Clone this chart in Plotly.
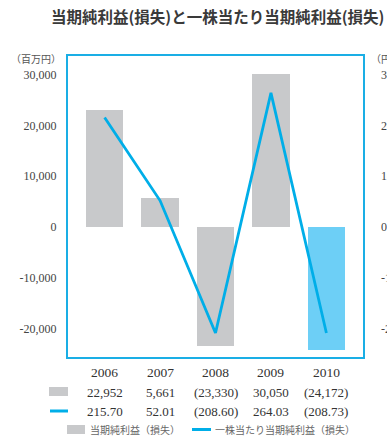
import plotly.graph_objects as go

years = ["2006", "2007", "2008", "2009", "2010"]
net_income = [22952, 5661, -23330, 30050, -24172]          # 百万円
eps = [215.70, 52.01, -208.60, 264.03, -208.73]             # 円
left_ticks = [30000, 20000, 10000, 0, -10000, -20000]
right_ticks = [300, 200, 100, 0, -100, -200]

title = "当期純利益(損失)と一株当たり当期純利益(損失)"
legend_bar = "当期純利益（損失）"
legend_line = "一株当たり当期純利益（損失）"

W, H = 387, 436
L, R, T, B = 68, 363, 56, 357
pw, ph = R - L, B - T
FRAME = "#1aaee5"
LINE = "#00aee8"
GRAY = "#c8c9cb"
LBLUE = "#6dcff6"
SERIF = "Liberation Serif, Times New Roman, serif"
CJK = "Noto Sans CJK JP, Noto Sans, sans-serif"

def px_x(p):
    return (p - L) / pw

def px_y(p):
    return (B - p) / ph

def fmt_int(v):
    s = f"{abs(v):,}"
    return f"({s})" if v < 0 else s

def fmt_dec(v):
    s = f"{abs(v):,.2f}"
    return f"({s})" if v < 0 else s

xs = list(range(len(years)))
bar_colors = [GRAY] * (len(years) - 1) + [LBLUE]

fig = go.Figure()
fig.add_trace(go.Bar(x=xs, y=net_income, width=0.67, marker=dict(color=bar_colors, line=dict(width=0)),
                     showlegend=False, yaxis="y"))
fig.add_trace(go.Scatter(x=xs, y=eps, mode="lines", line=dict(color=LINE, width=2.8),
                         showlegend=False, yaxis="y2"))

ymin, ymax = -25590, 33660
annotations = []
for i, yr in enumerate(years):
    annotations.append(dict(x=i, y=px_y(373), xref="x", yref="paper", text=yr, showarrow=False,
                            font=dict(family=SERIF, size=13.5, color="#333"), xanchor="center", yanchor="middle"))
    annotations.append(dict(x=i, y=px_y(392), xref="x", yref="paper", text=fmt_int(net_income[i]), showarrow=False,
                            font=dict(family=SERIF, size=13, color="#333"), xanchor="center", yanchor="middle"))
    annotations.append(dict(x=i, y=px_y(411), xref="x", yref="paper", text=fmt_dec(eps[i]), showarrow=False,
                            font=dict(family=SERIF, size=13, color="#333"), xanchor="center", yanchor="middle"))

annotations += [
    dict(x=px_x(63), y=px_y(58), xref="paper", yref="paper", text="（百万円）", showarrow=False,
         font=dict(family=CJK, size=10, color="#555"), xanchor="right", yanchor="middle"),
    dict(x=px_x(369), y=px_y(58), xref="paper", yref="paper", text="（円）", showarrow=False,
         font=dict(family=CJK, size=10, color="#555"), xanchor="left", yanchor="middle"),
    dict(x=px_x(88), y=px_y(429.5), xref="paper", yref="paper", text=legend_bar, showarrow=False,
         font=dict(family=CJK, size=10, color="#666"), xanchor="left", yanchor="middle"),
    dict(x=px_x(213), y=px_y(429.5), xref="paper", yref="paper", text=legend_line, showarrow=False,
         font=dict(family=CJK, size=10, color="#666"), xanchor="left", yanchor="middle"),
    dict(x=px_x(49), y=px_y(16), xref="paper", yref="paper", text=title, showarrow=False,
         font=dict(family=CJK, size=15.5, color="#3a3a3a", weight="bold"), xanchor="left", yanchor="middle"),
]

shapes = [
    dict(type="rect", xref="paper", yref="paper", x0=px_x(49), x1=px_x(68), y0=px_y(387), y1=px_y(396),
         fillcolor=GRAY, line=dict(width=0)),
    dict(type="line", xref="paper", yref="paper", x0=px_x(50), x1=px_x(68), y0=px_y(411), y1=px_y(411),
         line=dict(color=LINE, width=3)),
    dict(type="rect", xref="paper", yref="paper", x0=px_x(67), x1=px_x(85), y0=px_y(425), y1=px_y(434),
         fillcolor=GRAY, line=dict(width=0)),
    dict(type="line", xref="paper", yref="paper", x0=px_x(192), x1=px_x(211), y0=px_y(429.5), y1=px_y(429.5),
         line=dict(color=LINE, width=3)),
]

fig.update_layout(
    template="none",
    width=W, height=H,
    margin=dict(l=L, r=W - R, t=T, b=H - B, pad=0),
    paper_bgcolor="white", plot_bgcolor="white",
    bargap=0,
    xaxis=dict(range=[-0.66, 4.66], showticklabels=False, showgrid=False, zeroline=False, automargin=False,
               showline=True, mirror=True, linecolor=FRAME, linewidth=2, ticks=""),
    yaxis=dict(range=[ymin, ymax], tickvals=left_ticks, ticktext=[f"{v:,}" for v in left_ticks], automargin=False,
               showgrid=False, zeroline=False, showline=True, mirror=True, linecolor=FRAME, linewidth=2,
               ticks="", ticklabelstandoff=7, tickfont=dict(family=SERIF, size=12, color="#444")),
    yaxis2=dict(range=[ymin / 100, ymax / 100], tickvals=right_ticks, ticktext=[str(v) for v in right_ticks],
                overlaying="y", side="right", showgrid=False, zeroline=False, showline=False, automargin=False,
                ticks="", ticklabelstandoff=17, tickfont=dict(family=SERIF, size=12, color="#444")),
    annotations=annotations,
    shapes=shapes,
)

fig.write_html("out.html")
